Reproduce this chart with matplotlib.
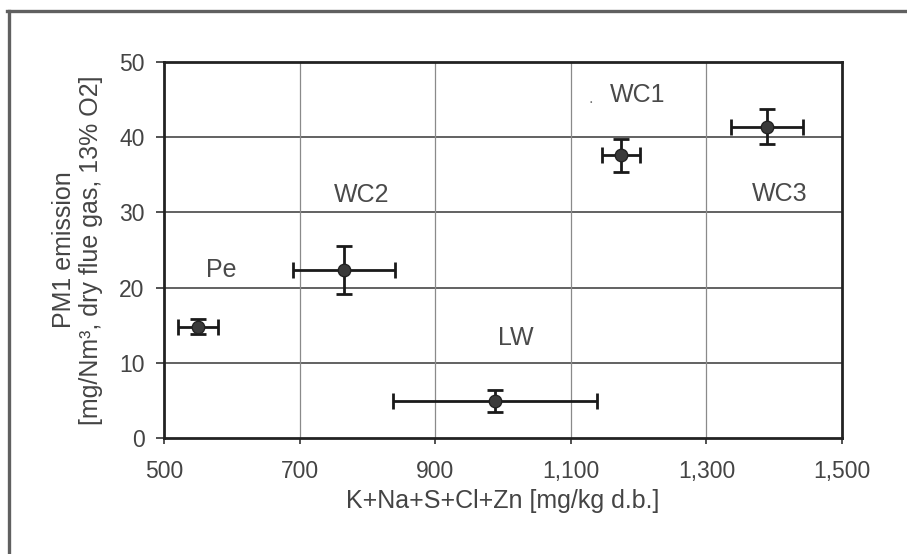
import matplotlib
matplotlib.use("Agg")
import matplotlib.pyplot as plt
from matplotlib.lines import Line2D

plt.rcParams['font.family'] = ['Liberation Sans', 'DejaVu Sans']

# Data
names = ["Pe", "WC2", "LW", "WC1", "WC3"]
x_vals = [550, 765, 988, 1174, 1389]
y_vals = [14.8, 22.3, 4.9, 37.6, 41.4]
x_err = [30, 75, 150, 28, 53]
y_err = [1.0, 3.2, 1.5, 2.2, 2.3]

label_x = [584, 792, 1019, 1199, 1408]
label_y = [22.3, 32.3, 13.3, 45.6, 32.4]

x_ticks = [500, 700, 900, 1100, 1300, 1500]
x_tick_labels = ["500", "700", "900", "1,100", "1,300", "1,500"]
y_ticks = [0, 10, 20, 30, 40, 50]

fig = plt.figure(figsize=(9.07, 5.54), dpi=100)
ax = fig.add_axes([164/907, 1-438/554, (842-164)/907, (438-62)/554])

ax.set_xlim(500, 1500)
ax.set_ylim(0, 50)

# gridlines
for yv in y_ticks[1:-1]:
    ax.axhline(yv, color="#555555", lw=1.3, zorder=1)
for xv in x_ticks[1:-1]:
    ax.axvline(xv, color="#8a8a8a", lw=0.9, zorder=1)

ax.errorbar(x_vals, y_vals, xerr=x_err, yerr=y_err, fmt='o', color='#222222',
            ecolor='#1a1a1a', elinewidth=2.0, capsize=6, capthick=2.0,
            markersize=9, markerfacecolor='#3a3a3a', markeredgecolor='#222222',
            zorder=3)

for n, lx, ly in zip(names, label_x, label_y):
    ax.text(lx, ly, n, ha='center', va='center', fontsize=18, color='#4a4a4a')
ax.text(1130, 45.2, ".", ha='center', va='center', fontsize=12, color='#777777')

ax.set_xticks(x_ticks)
ax.set_xticklabels(x_tick_labels)
ax.set_yticks(y_ticks)
ax.tick_params(axis='both', labelsize=16.5, labelcolor='#444444', color='#333333',
               direction='out', width=1.2)
ax.tick_params(axis='y', length=6, pad=8)
ax.tick_params(axis='x', length=4, pad=12)

for s in ax.spines.values():
    s.set_color('#222222')
    s.set_linewidth(2.0)

ax.set_xlabel("K+Na+S+Cl+Zn [mg/kg d.b.]", fontsize=18, color='#444444', labelpad=4)
ax.set_ylabel("PM1 emission\n[mg/Nm³, dry flue gas, 13% O2]", fontsize=18,
              color='#444444', linespacing=1.15)
ax.yaxis.set_label_coords((103 - 164) / 678, 0.5)

# outer frame (left and top edges)
fig.add_artist(Line2D([8.5/907, 8.5/907], [0, 1-10.5/554], color='#606060', lw=2.4,
                      transform=fig.transFigure))
fig.add_artist(Line2D([7/907, 1], [1-10.5/554, 1-10.5/554], color='#606060', lw=2.4,
                      transform=fig.transFigure))

fig.savefig("out.png", dpi=100)
